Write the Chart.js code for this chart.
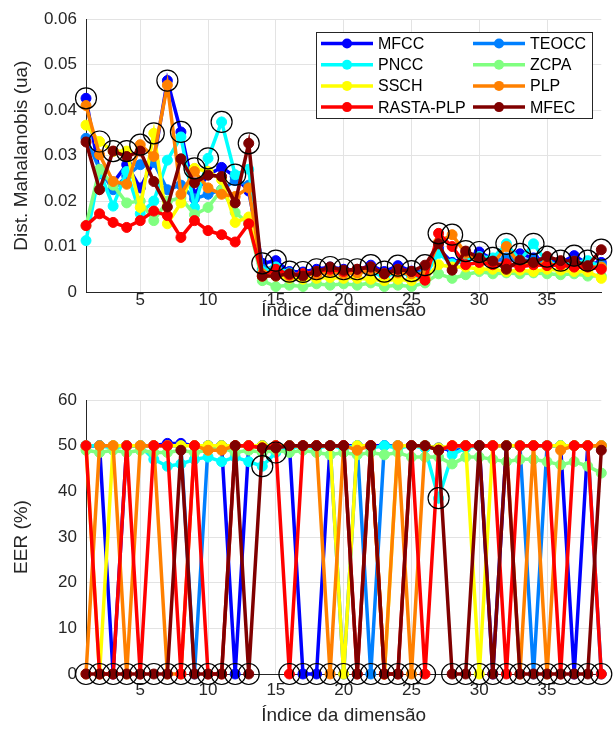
<!DOCTYPE html>
<html>
<head>
<meta charset="utf-8">
<script src="https://cdn.jsdelivr.net/npm/chart.js@4.4.0/dist/chart.umd.min.js"></script>
<style>
  body { margin: 0; background: #fff; }
  #topo { position: absolute; left: 0; top: 0; width: 613px; height: 321px; }
  #baixo { position: absolute; left: 0; top: 330px; width: 613px; height: 396px; }
</style>
</head>
<body>
<div id="topo"><canvas id="grafDist"></canvas></div>
<div id="baixo"><canvas id="grafEer"></canvas></div>
<script>
// Dimensões (eixo x)
const dims = [1, 2, 3, 4, 5, 6, 7, 8, 9, 10, 11, 12, 13, 14, 15, 16, 17, 18, 19, 20,
              21, 22, 23, 24, 25, 26, 27, 28, 29, 30, 31, 32, 33, 34, 35, 36, 37, 38, 39];
const xTicks = [5, 10, 15, 20, 25, 30, 35];
const distTicks = [0, 0.01, 0.02, 0.03, 0.04, 0.05, 0.06];
const eerTicks = [0, 10, 20, 30, 40, 50, 60];

const nomes = ['MFCC', 'TEOCC', 'PNCC', 'ZCPA', 'SSCH', 'PLP', 'RASTA-PLP', 'MFEC'];
const cores = ['#0000ff', '#0080ff', '#00ffff', '#80ff80', '#ffff00', '#ff8000', '#ff0000', '#800000'];

// Distância de Mahalanobis (gráfico de cima)
const mfccDist  = [0.0426, 0.0260, 0.0240, 0.0280, 0.0229, 0.0287, 0.0465, 0.0352, 0.0214, 0.0258, 0.0274, 0.0254, 0.0222,
                   0.0063, 0.0069, 0.0045, 0.0044, 0.0050, 0.0055, 0.0050, 0.0048, 0.0059, 0.0045, 0.0058, 0.0046, 0.0045,
                   0.0095, 0.0065, 0.0075, 0.0088, 0.0072, 0.0070, 0.0084, 0.0075, 0.0070, 0.0065, 0.0080, 0.0062, 0.0065];
const teoccDist = [0.0338, 0.0270, 0.0225, 0.0255, 0.0280, 0.0285, 0.0225, 0.0235, 0.0205, 0.0215, 0.0225, 0.0245, 0.0235,
                   0.0050, 0.0055, 0.0040, 0.0038, 0.0045, 0.0048, 0.0045, 0.0045, 0.0050, 0.0040, 0.0048, 0.0040, 0.0045,
                   0.0090, 0.0060, 0.0070, 0.0075, 0.0068, 0.0075, 0.0070, 0.0070, 0.0065, 0.0060, 0.0068, 0.0058, 0.0060];
const pnccDist  = [0.0113, 0.0265, 0.0189, 0.0265, 0.0172, 0.0200, 0.0290, 0.0341, 0.0186, 0.0294, 0.0374, 0.0258, 0.0270,
                   0.0045, 0.0055, 0.0042, 0.0035, 0.0042, 0.0045, 0.0040, 0.0045, 0.0045, 0.0032, 0.0045, 0.0035, 0.0035,
                   0.0085, 0.0062, 0.0070, 0.0078, 0.0075, 0.0106, 0.0070, 0.0106, 0.0065, 0.0060, 0.0065, 0.0069, 0.0055];
const zcpaDist  = [0.0146, 0.0270, 0.0235, 0.0196, 0.0200, 0.0157, 0.0200, 0.0207, 0.0170, 0.0186, 0.0225, 0.0175, 0.0150,
                   0.0025, 0.0012, 0.0015, 0.0012, 0.0018, 0.0015, 0.0018, 0.0015, 0.0020, 0.0012, 0.0015, 0.0012, 0.0020,
                   0.0040, 0.0030, 0.0038, 0.0045, 0.0040, 0.0042, 0.0040, 0.0042, 0.0040, 0.0038, 0.0040, 0.0035, 0.0035];
const sschDist  = [0.0367, 0.0331, 0.0309, 0.0310, 0.0186, 0.0349, 0.0150, 0.0196, 0.0272, 0.0265, 0.0247, 0.0153, 0.0165,
                   0.0035, 0.0035, 0.0030, 0.0028, 0.0030, 0.0032, 0.0030, 0.0030, 0.0028, 0.0025, 0.0028, 0.0025, 0.0030,
                   0.0060, 0.0055, 0.0055, 0.0050, 0.0050, 0.0045, 0.0048, 0.0045, 0.0050, 0.0048, 0.0045, 0.0045, 0.0030];
const plpDist   = [0.0410, 0.0302, 0.0243, 0.0237, 0.0324, 0.0298, 0.0455, 0.0215, 0.0265, 0.0229, 0.0215, 0.0210, 0.0229,
                   0.0040, 0.0045, 0.0035, 0.0040, 0.0038, 0.0045, 0.0040, 0.0042, 0.0048, 0.0040, 0.0042, 0.0040, 0.0038,
                   0.0110, 0.0126, 0.0085, 0.0068, 0.0062, 0.0100, 0.0060, 0.0060, 0.0062, 0.0058, 0.0055, 0.0055, 0.0055];
const rastaDist = [0.0146, 0.0172, 0.0153, 0.0142, 0.0157, 0.0178, 0.0168, 0.0120, 0.0157, 0.0135, 0.0126, 0.0110, 0.0150,
                   0.0035, 0.0050, 0.0038, 0.0040, 0.0045, 0.0050, 0.0045, 0.0050, 0.0055, 0.0040, 0.0050, 0.0045, 0.0026,
                   0.0129, 0.0100, 0.0060, 0.0065, 0.0060, 0.0062, 0.0055, 0.0060, 0.0058, 0.0060, 0.0055, 0.0055, 0.0050];
const mfecDist  = [0.0330, 0.0225, 0.0310, 0.0298, 0.0310, 0.0243, 0.0187, 0.0293, 0.0240, 0.0257, 0.0254, 0.0196, 0.0327,
                   0.0035, 0.0035, 0.0040, 0.0035, 0.0045, 0.0055, 0.0048, 0.0050, 0.0055, 0.0040, 0.0050, 0.0045, 0.0059,
                   0.0106, 0.0048, 0.0090, 0.0075, 0.0068, 0.0050, 0.0070, 0.0065, 0.0078, 0.0069, 0.0068, 0.0058, 0.0093];

// EER (%) (gráfico de baixo)
const mfccEer  = [50, 50, 0, 50, 50, 50, 50.5, 50.5, 50, 50, 50, 0, 50, 50, 50, 50, 0, 0, 50, 50,
                  50, 50, 50, 50, 50, 50, 49.5, 49, 50, 50, 0, 50, 50, 50, 50, 50, 0, 50, 50];
const teoccEer = [50, 50, 50, 50, 50, 50, 50, 50, 0, 50, 50, 50, 50, 50, 50, 50, 50, 50, 50, 0,
                  50, 0, 50, 50, 50, 50, 49.5, 49.5, 50, 50, 50, 50, 50, 0, 50, 50, 50, 50, 0];
const pnccEer  = [50, 50, 49.5, 50, 50, 47, 45.5, 46, 47, 47.5, 46.5, 47.5, 46.5, 45.5, 48.5, 49.5, 50, 49.5, 50, 49.5,
                  50, 49.5, 50, 49.5, 50, 49.5, 38.5, 48, 49.5, 50, 50, 50, 50, 50, 50, 50, 50, 50, 50];
const zcpaEer  = [49, 48.5, 49, 48.5, 49, 48.5, 48.5, 49, 48.5, 49, 49.5, 48.5, 49, 48.5, 49, 48.5, 49, 48.5, 48, 48.5,
                  48, 48.5, 48, 48.5, 47.5, 47.5, 47.5, 46, 47.5, 47.5, 47, 46.5, 47, 47, 46.5, 45.8, 46.5, 45.5, 44];
const sschEer  = [50, 0, 50, 50, 50, 50, 50, 50, 50, 50, 50, 50, 50, 50, 50, 50, 50, 50, 50, 0,
                  50, 50, 0, 50, 50, 50, 49.5, 50, 50, 0, 50, 50, 50, 50, 50, 50, 50, 50, 50];
const plpEer   = [0, 50, 50, 0, 50, 50, 0, 0, 50, 49, 49, 50, 50, 49.5, 50, 50, 50, 50, 0, 50,
                  49, 50, 0, 50, 0, 50, 49, 50, 50, 50, 50, 50, 0, 50, 0, 49, 50, 50, 50];
const rastaEer = [50, 0, 0, 50, 0, 50, 50, 0, 50, 0, 0, 50, 50, 49.5, 50, 0, 50, 50, 50, 50,
                  0, 50, 0, 0, 50, 0, 49, 50, 50, 50, 50, 0, 50, 50, 50, 0, 50, 50, 0];
const mfecEer  = [0, 0, 0, 0, 0, 0, 0, 49, 0, 0, 0, 50, 0, 49.5, 49.5, 50, 50, 50, 50, 50,
                  0, 50, 0, 0, 50, 50, 49, 0, 0, 50, 0, 50, 0, 0, 0, 0, 0, 0, 49];

const fonte = "'Liberation Sans', Arial, sans-serif";
const cinza = '#262626';

// Uma série por método; a última desenhada fica por cima
function series(listas) {
    return listas.map((vals, i) => ({
        label: nomes[i],
        data: vals.map((v, k) => ({ x: dims[k], y: v })),
        borderColor: cores[i],
        backgroundColor: cores[i],
        pointBackgroundColor: cores[i],
        pointBorderColor: cores[i],
        borderWidth: 3.5,
        pointRadius: 5,
        pointHoverRadius: 5,
        pointBorderWidth: 1,
        tension: 0,
        clip: false,
        order: 8 - i
    }));
}

// Círculos pretos marcando o extremo de cada dimensão
function marcas(listas, escolhe) {
    return {
        label: 'marca',
        data: dims.map((d, k) => ({ x: d, y: escolhe(...listas.map(l => l[k])) })),
        showLine: false,
        pointRadius: 10.5,
        pointHoverRadius: 10.5,
        pointBorderWidth: 1.2,
        pointBorderColor: '#000',
        pointBackgroundColor: 'rgba(0,0,0,0)',
        clip: false,
        order: 0
    };
}

function eixoX(pad, altura) {
    return {
        type: 'linear', min: 1, max: 39,
        afterBuildTicks: s => { s.ticks = xTicks.map(v => ({ value: v })); },
        afterFit: s => { s.height = altura; },
        grid: { color: '#e3e3e3', drawTicks: false },
        border: { color: cinza, width: 1 },
        ticks: { color: cinza, padding: pad, autoSkip: false, maxRotation: 0,
                 font: { family: fonte, size: 17, lineHeight: 1 } },
        title: { display: true, text: 'Índice da dimensão', color: cinza,
                 font: { family: fonte, size: 19, lineHeight: 1 }, padding: { top: 0, bottom: 0.5 } }
    };
}

function eixoY(lista, titulo) {
    return {
        min: lista[0], max: lista[lista.length - 1],
        afterBuildTicks: s => { s.ticks = lista.map(v => ({ value: v })); },
        afterFit: s => { s.width = 86; },
        grid: { color: '#e3e3e3', drawTicks: false },
        border: { color: cinza, width: 1 },
        ticks: { color: cinza, padding: 9, font: { family: fonte, size: 17 },
                 callback: v => String(Math.round(v * 100) / 100) },
        title: { display: true, text: titulo, color: cinza,
                 font: { family: fonte, size: 19, lineHeight: 1 }, padding: { top: 12.5, bottom: 0 } }
    };
}

// Legenda em duas colunas dentro do gráfico
const legendaCaixa = {
    id: 'legendaCaixa',
    afterDraw(chart) {
        const ctx = chart.ctx;
        ctx.save();
        ctx.fillStyle = '#fff';
        ctx.fillRect(316, 32, 276, 86);
        ctx.strokeStyle = cinza;
        ctx.lineWidth = 1;
        ctx.strokeRect(316.5, 32.5, 276, 86);
        ctx.font = '16px ' + fonte;
        ctx.textBaseline = 'middle';
        nomes.forEach((nome, i) => {
            const x0 = i % 2 === 0 ? 321 : 473;
            const y = 43.5 + Math.floor(i / 2) * 21.2;
            ctx.strokeStyle = cores[i];
            ctx.lineWidth = 3.5;
            ctx.beginPath();
            ctx.moveTo(x0, y);
            ctx.lineTo(x0 + 52, y);
            ctx.stroke();
            ctx.fillStyle = cores[i];
            ctx.beginPath();
            ctx.arc(x0 + 26, y, 5, 0, Math.PI * 2);
            ctx.fill();
            ctx.fillStyle = '#000';
            ctx.fillText(nome, x0 + 57, y + 1);
        });
        ctx.restore();
    }
};

const listasDist = [mfccDist, teoccDist, pnccDist, zcpaDist, sschDist, plpDist, rastaDist, mfecDist];
const listasEer = [mfccEer, teoccEer, pnccEer, zcpaEer, sschEer, plpEer, rastaEer, mfecEer];

const base = {
    responsive: true,
    maintainAspectRatio: false,
    animation: false,
    devicePixelRatio: 1,
    plugins: { legend: { display: false }, tooltip: { enabled: false } }
};

new Chart(document.getElementById('grafDist'), {
    type: 'line',
    data: { datasets: [...series(listasDist), marcas(listasDist, Math.max)] },
    options: {
        ...base,
        layout: { padding: { top: 16, right: 7, left: 0, bottom: 0 } },
        scales: { x: eixoX(0, 29), y: eixoY(distTicks, 'Dist. Mahalanobis (ua)') }
    },
    plugins: [legendaCaixa]
});

new Chart(document.getElementById('grafEer'), {
    type: 'line',
    data: { datasets: [...series(listasEer), marcas(listasEer, Math.min)] },
    options: {
        ...base,
        layout: { padding: { top: 70, right: 7, left: 0, bottom: 0 } },
        scales: { x: eixoX(8, 52), y: eixoY(eerTicks, 'EER (%)') }
    }
});
</script>
</body>
</html>
